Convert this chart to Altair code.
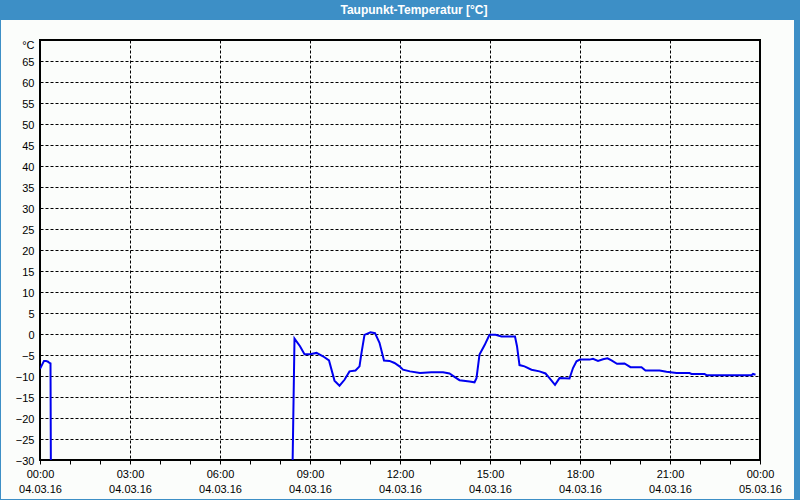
import altair as alt
import pandas as pd

# ---- data ----
times = ["00:00", "00:08", "00:12", "00:16", "00:19", "00:21", "00:22",
         "08:24", "08:29", "08:40", "08:49", "09:00", "09:13", "09:26", "09:38", "09:49",
         "09:59", "10:09", "10:19", "10:31", "10:39", "10:43", "10:49", "11:01", "11:10",
         "11:19", "11:28", "11:39", "11:49", "11:59", "12:06", "12:20", "12:40", "13:03",
         "13:26", "13:39", "13:49", "13:59", "14:19", "14:29", "14:33", "14:39", "14:49",
         "14:59", "15:11", "15:23", "15:50", "15:54", "15:59", "16:09", "16:23", "16:39",
         "16:51", "16:59", "17:10", "17:19", "17:39", "17:46", "17:53", "18:00", "18:19",
         "18:26", "18:36", "18:46", "18:55", "19:03", "19:14", "19:29", "19:41", "20:03",
         "20:11", "20:39", "20:53", "21:13", "21:39", "21:43", "22:09", "22:13", "23:43",
         "23:46", "23:51"]
dewpoint = [-8.3, -6.4, -6.4, -6.6, -6.9, -7.0, -40.0,
            -40.0, -1.1, -2.9, -4.8, -4.8, -4.5, -5.3, -6.3, -11.1,
            -12.3, -10.9, -8.9, -8.7, -7.7, -4.5, -0.2, 0.4, 0.2,
            -2.1, -6.3, -6.4, -6.9, -7.7, -8.5, -8.9, -9.3, -9.1,
            -9.1, -9.4, -10.2, -11.0, -11.3, -11.5, -10.5, -4.9, -2.7,
            -0.2, -0.2, -0.6, -0.6, -2.9, -7.4, -7.7, -8.5, -8.9,
            -9.4, -10.5, -12.1, -10.5, -10.6, -8.1, -6.5, -6.1, -6.1,
            -5.9, -6.4, -6.0, -5.8, -6.3, -7.1, -7.0, -7.9, -7.9,
            -8.7, -8.7, -9.0, -9.3, -9.3, -9.5, -9.5, -9.8, -9.8,
            -9.5, -9.7]

x_label_hours = [0, 3, 6, 9, 12, 15, 18, 21, 24]
x_label_times = ["00:00", "03:00", "06:00", "09:00", "12:00", "15:00", "18:00", "21:00", "00:00"]
x_label_dates = ["04.03.16"] * 8 + ["05.03.16"]
y_ticks = list(range(-30, 75, 5))
y_unit_label = "°C"
title_text = "Taupunkt-Temperatur [°C]"

# ---- build table ----
def to_hours(s):
    h, m = s.split(":")
    return int(h) + int(m) / 60.0

df = pd.DataFrame({"t": [to_hours(s) for s in times], "v": dewpoint})

# label expression built from the tick label arrays
expr = "''"
for h, tm, dt in reversed(list(zip(x_label_hours, x_label_times, x_label_dates))):
    expr = f"datum.value == {h} ? ['{tm}', '{dt}'] : ({expr})"

FONT = "Liberation Sans"
BLUE_BAR = "#3d8fc6"

x_enc = alt.X(
    "t:Q",
    scale=alt.Scale(domain=[0, 24], nice=False, zero=False),
    axis=alt.Axis(
        title=None,
        values=list(range(0, 25)),
        labelExpr=expr,
        labelFont=FONT, labelFontSize=11, labelColor="black",
        labelLineHeight=15, labelBaseline="top", labelPadding=4,
        labelOverlap=False, labelBound=False, labelFlush=False,
        ticks=True, tickSize=4, tickColor="black", tickWidth=1,
        domain=False,
        grid=True, gridColor="black", gridDash=[3, 2], gridWidth=1,
        gridOpacity={"condition": {"test": "datum.value % 3 == 0 && datum.value > 0 && datum.value < 24",
                                   "value": 1}, "value": 0},
    ),
)
y_enc = alt.Y(
    "v:Q",
    scale=alt.Scale(domain=[-30, 70], nice=False, zero=False),
    axis=alt.Axis(
        title=None,
        values=y_ticks,
        labelExpr=f"datum.value == 70 ? '{y_unit_label}' : datum.label",
        labelFont=FONT, labelFontSize=11, labelColor="black",
        labelPadding=6, labelBaseline="middle",
        labelOffset={"condition": {"test": "datum.value == 70", "value": 5}, "value": 1},
        ticks=False, domain=False,
        grid=True, gridColor="black", gridDash=[3, 2], gridWidth=1,
        gridOpacity={"condition": {"test": "datum.value > -30 && datum.value < 70", "value": 1}, "value": 0},
    ),
)

line = alt.Chart(df).mark_line(color="#0000f0", strokeWidth=2, clip=True, interpolate="linear").encode(
    x=x_enc, y=y_enc
)

one = pd.DataFrame({"a": [0]})
bar = alt.Chart(one).mark_rect(color=BLUE_BAR).encode(
    x=alt.value(-40), x2=alt.value(760), y=alt.value(-40), y2=alt.value(-20)
)
left_border = alt.Chart(one).mark_rect(color=BLUE_BAR).encode(
    x=alt.value(-40), x2=alt.value(-39), y=alt.value(-40), y2=alt.value(460)
)
right_border = alt.Chart(one).mark_rect(color=BLUE_BAR).encode(
    x=alt.value(754), x2=alt.value(760), y=alt.value(-40), y2=alt.value(460)
)
bottom_border = alt.Chart(one).mark_rect(color=BLUE_BAR).encode(
    x=alt.value(-40), x2=alt.value(760), y=alt.value(459), y2=alt.value(460)
)
title = alt.Chart(one).mark_text(
    color="white", font=FONT, fontSize=12, fontWeight="bold", align="center", baseline="middle"
).encode(x=alt.value(374), y=alt.value(-30), text=alt.value(title_text))

chart = alt.layer(line, bar, left_border, right_border, bottom_border, title).properties(
    width=720, height=420,
    autosize=alt.AutoSizeParams(type="none"),
    padding={"left": 40, "top": 40, "right": 40, "bottom": 40},
    background="#fbfdfb",
).configure_view(stroke="black", strokeWidth=2)

chart.save("out.html", embed_options={"renderer": "svg", "actions": False})
